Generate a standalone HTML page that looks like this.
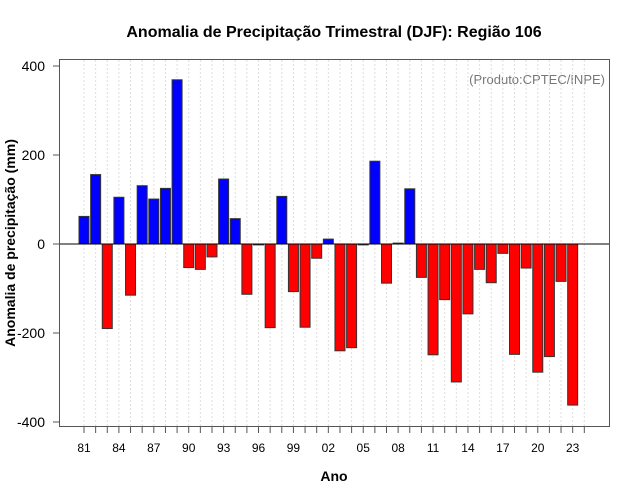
<!DOCTYPE html>
<html><head><meta charset="utf-8"><style>
body{margin:0;background:#fff;}
svg{display:block;font-family:"Liberation Sans",sans-serif;}
</style></head><body>
<svg id="c" width="640" height="500">
<text x="334" y="37" text-anchor="middle" font-size="16" font-weight="bold">Anomalia de Precipitação Trimestral (DJF): Região 106</text>
<text x="334" y="481" text-anchor="middle" font-size="14" font-weight="bold">Ano</text>
<text transform="translate(15,243) rotate(-90)" text-anchor="middle" font-size="14" font-weight="bold">Anomalia de precipitação (mm)</text>
<text x="605" y="84" text-anchor="end" font-size="13" fill="#777">(Produto:CPTEC/INPE)</text>
<g id="grid"></g><g id="bars"></g><g id="axes"></g>
<rect x="59.5" y="59.5" width="550" height="367" fill="none" stroke="#555" stroke-width="1"/>
</svg>
<script>
const years=[1981,1982,1983,1984,1985,1986,1987,1988,1989,1990,1991,1992,1993,1994,1995,1996,1997,1998,1999,2000,2001,2002,2003,2004,2005,2006,2007,2008,2009,2010,2011,2012,2013,2014,2015,2016,2017,2018,2019,2020,2021,2022,2023];
const values=[62,156,-190,105,-115,131,101,125,369,-53,-57,-29,146,57,-113,-2,-188,107,-107,-187,-32,11,-240,-233,-2,186,-88,2,124,-75,-249,-125,-310,-157,-57,-87,-21,-248,-54,-288,-253,-84,-362];
const yTicks=[-400,-200,0,200,400];
const xTickLabels=["81","84","87","90","93","96","99","02","05","08","11","14","17","20","23"];
const NS="http://www.w3.org/2000/svg";
const x=yr=>84+(yr-1981)*11.635;
const y=v=>244-v*0.445;
function mk(t,a,p){const e=document.createElementNS(NS,t);for(const k in a)e.setAttribute(k,a[k]);p.appendChild(e);return e;}
const grid=document.getElementById('grid'),bars=document.getElementById('bars'),axes=document.getElementById('axes');
for(let yr=1981;yr<=2024;yr++){
  const g=mk('line',{x1:x(yr),x2:x(yr),y1:60,y2:426,stroke:'#ddd','stroke-dasharray':'2,2'},grid);
  
  
  const t=mk('line',{x1:x(yr),x2:x(yr),y1:427,y2:433,stroke:'#555'},axes);
  
  
}
xTickLabels.forEach((l,i)=>{
  const t=mk('text',{x:x(1981+i*3),y:452,'text-anchor':'middle','font-size':12},axes);
  t.textContent=l;
  
  
});
yTicks.forEach(v=>{
  const t=mk('line',{x1:53,x2:59,y1:y(v),y2:y(v),stroke:'#555'},axes);
  
  
  const l=mk('text',{x:45,y:y(v)+5,'text-anchor':'end','font-size':14},axes);
  l.textContent=v;
  
  
});
years.forEach((yr,i)=>{
  const v=values[i];
  const top=Math.min(y(v),y(0)),h=Math.abs(y(v)-y(0));
  const r=mk('rect',{x:x(yr)-5,y:top,width:10,height:Math.max(h,0.5),fill:v>=0?'#0000ff':'#ff0000',stroke:'#333','stroke-width':1},bars);
  
  
});
const z=mk('line',{x1:60,x2:609,y1:y(0),y2:y(0),stroke:'#000'},axes);


</script>
</body></html>
